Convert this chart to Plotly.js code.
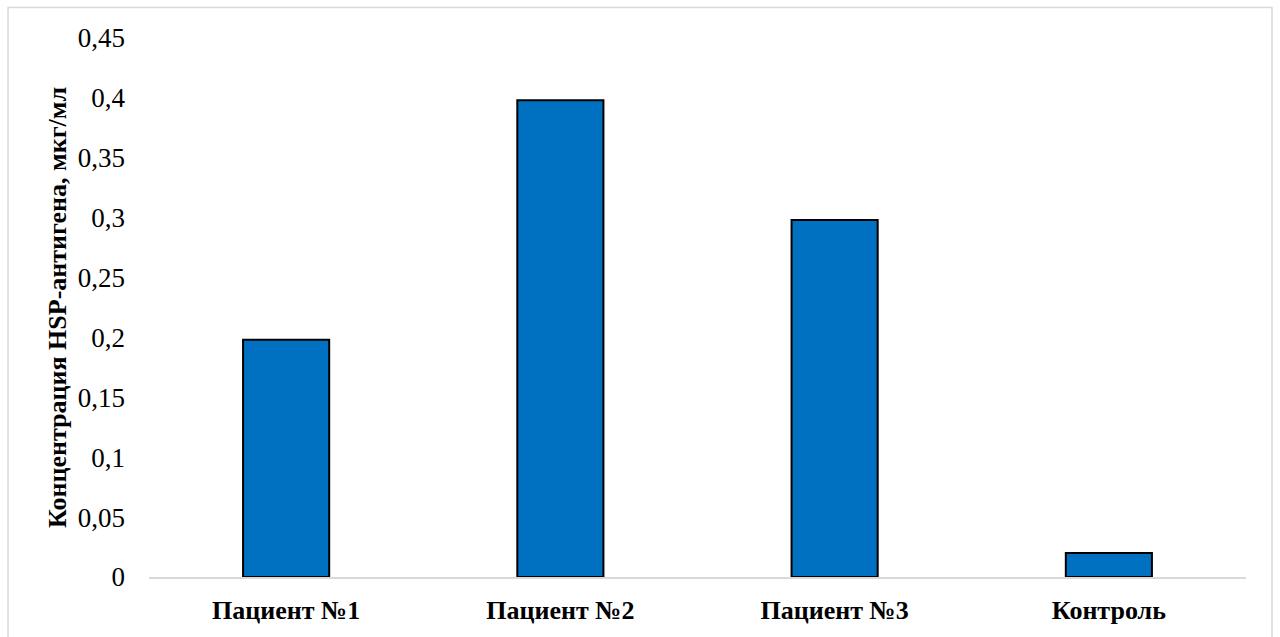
<!DOCTYPE html>
<html>
<head>
<meta charset="utf-8">
<script src="https://cdn.plot.ly/plotly-3.0.1.min.js"></script>
<style>
  html, body { margin: 0; padding: 0; background: #ffffff; }
  #chart { width: 1280px; height: 637px; }
</style>
</head>
<body>
<div id="chart"></div>
<script>
// HSP antigen concentration per sample, µg/ml
const categories = ['Пациент №1', 'Пациент №2', 'Пациент №3', 'Контроль'];
const concentrations = [0.198, 0.398, 0.298, 0.02];
const tickValues = [0, 0.05, 0.1, 0.15, 0.2, 0.25, 0.3, 0.35, 0.4, 0.45];
const tickLabels = ['0', '0,05', '0,1', '0,15', '0,2', '0,25', '0,3', '0,35', '0,4', '0,45'];
const yTitle = 'Концентрация HSP-антигена, мкг/мл';

const serif = 'Times New Roman, Liberation Serif, serif';

const trace = {
  type: 'bar',
  x: categories,
  y: concentrations,
  marker: {
    color: '#0070c0',
    line: { color: '#000000', width: 2 }
  },
  hoverinfo: 'x+y'
};

const layout = {
  width: 1280,
  height: 637,
  paper_bgcolor: '#ffffff',
  plot_bgcolor: '#ffffff',
  margin: { l: 149, r: 34, t: 37.5, b: 59.5 },
  bargap: 0.686,
  showlegend: false,
  font: { family: serif, color: '#000000' },
  xaxis: {
    type: 'category',
    showgrid: false,
    zeroline: false,
    showline: true,
    linecolor: '#d9d9d9',
    linewidth: 2,
    ticks: '',
    tickfont: { family: serif, size: 26, color: '#000000', weight: 'bold' },
    ticklabelstandoff: 9
  },
  yaxis: {
    range: [0, 0.45],
    tickvals: tickValues,
    ticktext: tickLabels,
    showgrid: false,
    zeroline: false,
    showline: false,
    ticks: '',
    tickfont: { family: serif, size: 27, color: '#000000' },
    ticklabelstandoff: 23,
    title: {
      text: yTitle,
      font: { family: serif, size: 26, color: '#000000', weight: 'bold' },
      standoff: 3
    }
  },
  shapes: [{
    type: 'rect',
    xref: 'paper', yref: 'paper',
    x0: -0.1285, x1: 1.0237,
    y0: -0.2, y1: 1.0565,
    line: { color: '#d9d9d9', width: 1.5 },
    fillcolor: 'rgba(0,0,0,0)',
    layer: 'below'
  }]
};

Plotly.newPlot('chart', [trace], layout, { displayModeBar: false, staticPlot: true });
</script>
</body>
</html>
